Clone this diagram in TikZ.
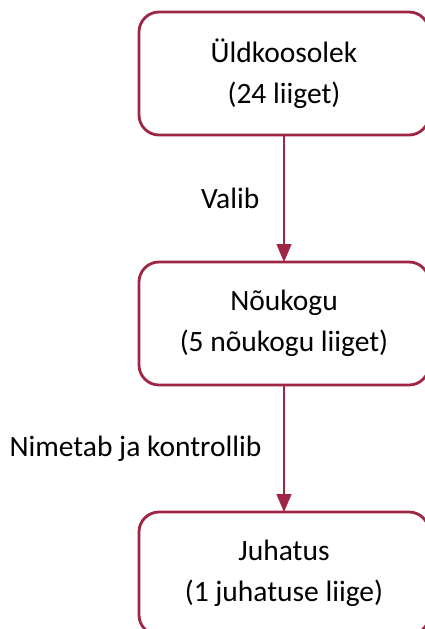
\documentclass[tikz,border=0pt]{standalone}
\usepackage{fontspec}
\setmainfont{Carlito}
\usetikzlibrary{arrows.meta, positioning}
\definecolor{boardred}{RGB}{158,38,68}

\begin{document}
\begin{tikzpicture}[
        x=1pt, y=1pt,
        node distance=127pt,
        box/.style={rectangle, draw=boardred, line width=2.8pt, fill=white, rounded corners=20pt, minimum width=290pt, minimum height=123pt, outer sep=0pt, align=center, font=\fontsize{29.5}{41}\selectfont},
        arrow/.style={-{Triangle[length=18pt, width=15pt]}, boardred, line width=1.3pt},
        lbl/.style={text=black, font=\fontsize{29.5}{34}\selectfont, inner sep=0pt}
    ]
        \useasboundingbox (0,0) rectangle (424,-629);
        \node[box] (meeting) at (284,-73.5) {Üldkoosolek\\(24 liiget)};
        \node[box, below=of meeting] (council) {Nõukogu\\(5 nõukogu liiget)};
        \node[box, below=of council] (board) {Juhatus\\(1 juhatuse liige)};

        \draw[arrow] (meeting) -- node[lbl, left=24pt] {Valib} (council);
        \draw[arrow] (council) -- node[lbl, left=22pt] {Nimetab ja kontrollib} (board);
    \end{tikzpicture}
\end{document}
